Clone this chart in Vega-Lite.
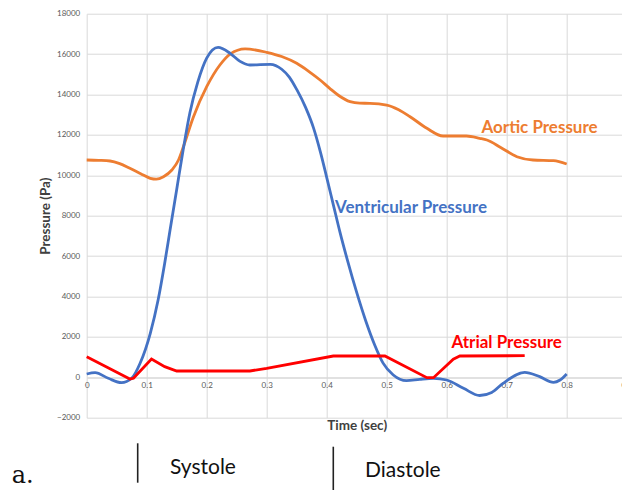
{
  "$schema": "https://vega.github.io/schema/vega-lite/v6.json",
  "width": 540,
  "height": 404,
  "autosize": "none",
  "padding": {"left": 86.7, "top": 13.7, "right": 0, "bottom": 77.3},
  "background": "white",
  "config": {"view": {"stroke": null}, "font": "Lato"},
  "datasets": {
    "smooth": [
      {"series": "Aortic Pressure", "t": 0, "p": 10757},
      {"series": "Aortic Pressure", "t": 0.02, "p": 10740},
      {"series": "Aortic Pressure", "t": 0.039, "p": 10708},
      {"series": "Aortic Pressure", "t": 0.055, "p": 10580},
      {"series": "Aortic Pressure", "t": 0.072, "p": 10346},
      {"series": "Aortic Pressure", "t": 0.09, "p": 10080},
      {"series": "Aortic Pressure", "t": 0.106, "p": 9851},
      {"series": "Aortic Pressure", "t": 0.116, "p": 9810},
      {"series": "Aortic Pressure", "t": 0.128, "p": 9931},
      {"series": "Aortic Pressure", "t": 0.142, "p": 10262},
      {"series": "Aortic Pressure", "t": 0.153, "p": 10757},
      {"series": "Aortic Pressure", "t": 0.161, "p": 11400},
      {"series": "Aortic Pressure", "t": 0.178, "p": 12901},
      {"series": "Aortic Pressure", "t": 0.2, "p": 14386},
      {"series": "Aortic Pressure", "t": 0.222, "p": 15460},
      {"series": "Aortic Pressure", "t": 0.239, "p": 16000},
      {"series": "Aortic Pressure", "t": 0.264, "p": 16260},
      {"series": "Aortic Pressure", "t": 0.3, "p": 16089},
      {"series": "Aortic Pressure", "t": 0.325, "p": 15880},
      {"series": "Aortic Pressure", "t": 0.35, "p": 15545},
      {"series": "Aortic Pressure", "t": 0.37, "p": 15150},
      {"series": "Aortic Pressure", "t": 0.389, "p": 14718},
      {"series": "Aortic Pressure", "t": 0.405, "p": 14307},
      {"series": "Aortic Pressure", "t": 0.42, "p": 13950},
      {"series": "Aortic Pressure", "t": 0.439, "p": 13644},
      {"series": "Aortic Pressure", "t": 0.455, "p": 13570},
      {"series": "Aortic Pressure", "t": 0.472, "p": 13564},
      {"series": "Aortic Pressure", "t": 0.5, "p": 13480},
      {"series": "Aortic Pressure", "t": 0.52, "p": 13250},
      {"series": "Aortic Pressure", "t": 0.539, "p": 12901},
      {"series": "Aortic Pressure", "t": 0.567, "p": 12327},
      {"series": "Aortic Pressure", "t": 0.594, "p": 11946},
      {"series": "Aortic Pressure", "t": 0.633, "p": 11946},
      {"series": "Aortic Pressure", "t": 0.655, "p": 11832},
      {"series": "Aortic Pressure", "t": 0.667, "p": 11748},
      {"series": "Aortic Pressure", "t": 0.69, "p": 11380},
      {"series": "Aortic Pressure", "t": 0.717, "p": 10921},
      {"series": "Aortic Pressure", "t": 0.744, "p": 10757},
      {"series": "Aortic Pressure", "t": 0.778, "p": 10723},
      {"series": "Aortic Pressure", "t": 0.8, "p": 10559},
      {"series": "Ventricular Pressure", "t": 0, "p": 163},
      {"series": "Ventricular Pressure", "t": 0.014, "p": 228},
      {"series": "Ventricular Pressure", "t": 0.036, "p": -50},
      {"series": "Ventricular Pressure", "t": 0.058, "p": -267},
      {"series": "Ventricular Pressure", "t": 0.075, "p": -50},
      {"series": "Ventricular Pressure", "t": 0.089, "p": 693},
      {"series": "Ventricular Pressure", "t": 0.106, "p": 2178},
      {"series": "Ventricular Pressure", "t": 0.119, "p": 3827},
      {"series": "Ventricular Pressure", "t": 0.13, "p": 5650},
      {"series": "Ventricular Pressure", "t": 0.139, "p": 7300},
      {"series": "Ventricular Pressure", "t": 0.15, "p": 9300},
      {"series": "Ventricular Pressure", "t": 0.161, "p": 11300},
      {"series": "Ventricular Pressure", "t": 0.172, "p": 13100},
      {"series": "Ventricular Pressure", "t": 0.185, "p": 14600},
      {"series": "Ventricular Pressure", "t": 0.2, "p": 15800},
      {"series": "Ventricular Pressure", "t": 0.219, "p": 16330},
      {"series": "Ventricular Pressure", "t": 0.239, "p": 16040},
      {"series": "Ventricular Pressure", "t": 0.255, "p": 15650},
      {"series": "Ventricular Pressure", "t": 0.272, "p": 15460},
      {"series": "Ventricular Pressure", "t": 0.306, "p": 15495},
      {"series": "Ventricular Pressure", "t": 0.325, "p": 15250},
      {"series": "Ventricular Pressure", "t": 0.338, "p": 14850},
      {"series": "Ventricular Pressure", "t": 0.35, "p": 14250},
      {"series": "Ventricular Pressure", "t": 0.365, "p": 13350},
      {"series": "Ventricular Pressure", "t": 0.378, "p": 12350},
      {"series": "Ventricular Pressure", "t": 0.39, "p": 11100},
      {"series": "Ventricular Pressure", "t": 0.4, "p": 9900},
      {"series": "Ventricular Pressure", "t": 0.411, "p": 8550},
      {"series": "Ventricular Pressure", "t": 0.422, "p": 7200},
      {"series": "Ventricular Pressure", "t": 0.435, "p": 5750},
      {"series": "Ventricular Pressure", "t": 0.45, "p": 4200},
      {"series": "Ventricular Pressure", "t": 0.465, "p": 2800},
      {"series": "Ventricular Pressure", "t": 0.48, "p": 1600},
      {"series": "Ventricular Pressure", "t": 0.494, "p": 700},
      {"series": "Ventricular Pressure", "t": 0.511, "p": 114},
      {"series": "Ventricular Pressure", "t": 0.533, "p": -168},
      {"series": "Ventricular Pressure", "t": 0.555, "p": -99},
      {"series": "Ventricular Pressure", "t": 0.578, "p": -50},
      {"series": "Ventricular Pressure", "t": 0.6, "p": -134},
      {"series": "Ventricular Pressure", "t": 0.628, "p": -545},
      {"series": "Ventricular Pressure", "t": 0.655, "p": -900},
      {"series": "Ventricular Pressure", "t": 0.675, "p": -750},
      {"series": "Ventricular Pressure", "t": 0.694, "p": -297},
      {"series": "Ventricular Pressure", "t": 0.73, "p": 247},
      {"series": "Ventricular Pressure", "t": 0.755, "p": 30},
      {"series": "Ventricular Pressure", "t": 0.778, "p": -248},
      {"series": "Ventricular Pressure", "t": 0.789, "p": -134},
      {"series": "Ventricular Pressure", "t": 0.8, "p": 163}
    ],
    "atrial": [
      {"series": "Atrial Pressure", "t": 0, "p": 1020},
      {"series": "Atrial Pressure", "t": 0.072, "p": -84},
      {"series": "Atrial Pressure", "t": 0.078, "p": -50},
      {"series": "Atrial Pressure", "t": 0.108, "p": 906},
      {"series": "Atrial Pressure", "t": 0.13, "p": 525},
      {"series": "Atrial Pressure", "t": 0.15, "p": 312},
      {"series": "Atrial Pressure", "t": 0.272, "p": 312},
      {"series": "Atrial Pressure", "t": 0.3, "p": 446},
      {"series": "Atrial Pressure", "t": 0.411, "p": 1054},
      {"series": "Atrial Pressure", "t": 0.497, "p": 1054},
      {"series": "Atrial Pressure", "t": 0.567, "p": -20},
      {"series": "Atrial Pressure", "t": 0.578, "p": -20},
      {"series": "Atrial Pressure", "t": 0.611, "p": 900},
      {"series": "Atrial Pressure", "t": 0.622, "p": 1054},
      {"series": "Atrial Pressure", "t": 0.73, "p": 1070}
    ],
    "labels": [
      {"series": "Aortic Pressure", "t": 0.658, "p": 12327},
      {"series": "Ventricular Pressure", "t": 0.414, "p": 8366},
      {"series": "Atrial Pressure", "t": 0.608, "p": 1683}
    ],
    "bars": [
      {"phase": "Systole", "t": 0.085, "p": -3267, "p2": -5218},
      {"phase": "Diastole", "t": 0.411, "p": -3436, "p2": -5579}
    ],
    "phases": [
      {"phase": "Systole", "t": 0.1388, "p": -4505},
      {"phase": "Diastole", "t": 0.4638, "p": -4639}
    ],
    "tag": [
      {"text": "a.", "t": -0.125, "p": -5248}
    ]
  },
  "encoding": {
    "x": {
      "field": "t",
      "type": "quantitative",
      "scale": {"domain": [0, 0.9], "nice": false},
      "axis": {
        "values": [0, 0.1, 0.2, 0.3, 0.4, 0.5, 0.6, 0.7, 0.8, 0.9],
        "format": "~g",
        "labelFontSize": 8,
        "labelColor": "#595959",
        "labelPadding": 4,
        "labelFlush": false,
        "labelOverlap": false,
        "ticks": false,
        "domain": true,
        "domainColor": "#d9d9d9",
        "grid": true,
        "gridColor": "#d9d9d9",
        "offset": -40.4,
        "title": "Time (sec)",
        "titleFontSize": 13.5,
        "titleFontWeight": "bold",
        "titleColor": "#404040",
        "titlePadding": 29
      }
    },
    "y": {
      "field": "p",
      "type": "quantitative",
      "scale": {"domain": [-2000, 18000], "nice": false, "zero": false},
      "axis": {
        "values": [-2000, 0, 2000, 4000, 6000, 8000, 10000, 12000, 14000, 16000, 18000],
        "format": "d",
        "labelFontSize": 8,
        "labelColor": "#595959",
        "labelPadding": 7,
        "ticks": false,
        "domain": false,
        "grid": true,
        "gridColor": "#d9d9d9",
        "title": "Pressure (Pa)",
        "titleFontSize": 13.5,
        "titleFontWeight": "bold",
        "titleColor": "#404040",
        "titlePadding": 4
      }
    }
  },
  "layer": [
    {
      "data": {"name": "smooth"},
      "mark": {"type": "line", "interpolate": "monotone", "strokeWidth": 2.8},
      "encoding": {
        "color": {
          "field": "series",
          "type": "nominal",
          "scale": {"domain": ["Aortic Pressure", "Ventricular Pressure", "Atrial Pressure"], "range": ["#ED7D31", "#4472C4", "#FF0000"]},
          "legend": null
        },
        "detail": {"field": "series"}
      }
    },
    {
      "data": {"name": "atrial"},
      "mark": {"type": "line", "interpolate": "linear", "strokeWidth": 2.8},
      "encoding": {
        "color": {"field": "series", "type": "nominal", "legend": null}
      }
    },
    {
      "data": {"name": "labels"},
      "mark": {"type": "text", "align": "left", "baseline": "middle", "font": "Lato", "fontWeight": "bold", "fontSize": 17},
      "encoding": {
        "text": {"field": "series"},
        "color": {"field": "series", "type": "nominal", "legend": null}
      }
    },
    {
      "data": {"name": "bars"},
      "mark": {"type": "rule", "color": "#222222", "strokeWidth": 1.6},
      "encoding": {"y2": {"field": "p2"}}
    },
    {
      "data": {"name": "phases"},
      "mark": {"type": "text", "align": "left", "baseline": "middle", "font": "Lato", "fontSize": 21, "color": "#111111"},
      "encoding": {"text": {"field": "phase"}}
    },
    {
      "data": {"name": "tag"},
      "mark": {"type": "text", "align": "left", "baseline": "alphabetic", "font": "DejaVu Serif", "fontSize": 24, "color": "#111111"},
      "encoding": {"text": {"field": "text"}}
    }
  ]
}
